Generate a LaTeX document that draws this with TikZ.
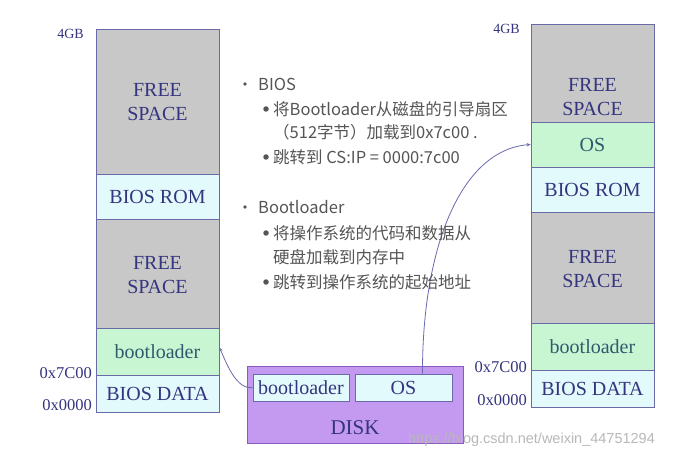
\documentclass[tikz,border=0pt]{standalone}
\usepackage{fontspec}
\setmainfont{Liberation Serif}
\newfontfamily\cjkf{Noto Sans CJK SC}
\newfontfamily\wmf{Liberation Sans}
\usetikzlibrary{arrows.meta}
\definecolor{boxline}{HTML}{6A6AA8}
\definecolor{navytext}{HTML}{35357F}
\definecolor{tealtext}{HTML}{2E5A6E}
\definecolor{freegray}{HTML}{C8C8C8}
\definecolor{lightcyan}{HTML}{E2FAFC}
\definecolor{lightgreen}{HTML}{C8F5D2}
\definecolor{diskpurple}{HTML}{C49AF0}
\definecolor{diskline}{HTML}{8A5AC0}
\definecolor{bodytext}{HTML}{555555}
\definecolor{connline}{HTML}{6A6AB0}
\tikzset{
  mem/.style={draw=boxline, line width=0.8pt, minimum width=123pt, inner sep=0pt, text=navytext, font=\fontsize{20}{24}\selectfont},
  freebox/.style={mem, fill=freegray},
  cyanbox/.style={mem, fill=lightcyan},
  greenbox/.style={mem, fill=lightgreen, text=tealtext},
  lbltext/.style={text=navytext, align=center, font=\fontsize{20}{24}\selectfont, inner sep=0pt},
  addr/.style={text=navytext, anchor=east, inner sep=0pt, font=\fontsize{16.5}{18}\selectfont},
  addrsmall/.style={text=navytext, anchor=east, inner sep=0pt, font=\fontsize{14}{16}\selectfont},
  line/.style={text=bodytext, anchor=west, inner sep=0pt, font=\cjkf\fontsize{16.5}{18}\selectfont},
  bul/.style={circle, fill=bodytext, inner sep=0pt},
  conn/.style={draw=connline, line width=0.8pt, -{Stealth[length=4pt,width=3.5pt]}},
}
\begin{document}
\begin{tikzpicture}[x=1pt,y=-1pt]
\useasboundingbox[fill=white] (0,0) rectangle (690,462);

% left memory
\node[freebox, minimum height=145pt] (lf1) at (157.5,101.5) {};
\node[lbltext] (lf1t) at (157.5,102) {FREE\\SPACE};
\node[cyanbox, minimum height=45pt] (lrom) at (157.5,196.5) {BIOS ROM};
\node[freebox, minimum height=109pt] (lf2) at (157.5,273.5) {};
\node[lbltext] (lf2t) at (157.5,275) {FREE\\SPACE};
\node[greenbox, minimum height=47pt] (lbl) at (157.5,351.5) {bootloader};
\node[cyanbox, minimum height=37pt] (lbd) at (157.5,393.5) {BIOS DATA};
\node[addrsmall] (l4gb) at (84,34) {4GB};
\node[addr] (l7c) at (92,373) {0x7C00};
\node[addr] (l00) at (92,405) {0x0000};

% right memory
\node[freebox, minimum height=98pt] (rf1) at (592.5,73) {};
\node[lbltext] (rf1t) at (592.5,97) {FREE\\SPACE};
\node[greenbox, minimum height=45pt] (ros) at (592.5,144.5) {OS};
\node[cyanbox, minimum height=45pt] (rrom) at (592.5,189.5) {BIOS ROM};
\node[freebox, minimum height=111pt] (rf2) at (592.5,267.5) {};
\node[lbltext] (rf2t) at (592.5,269) {FREE\\SPACE};
\node[greenbox, minimum height=47pt] (rbl) at (592.5,346.5) {bootloader};
\node[cyanbox, minimum height=37pt] (rbd) at (592.5,388.5) {BIOS DATA};
\node[addrsmall] (r4gb) at (520,29) {4GB};
\node[addr] (r7c) at (527,367) {0x7C00};
\node[addr] (r00) at (527,400) {0x0000};

% disk
\node[draw=diskline, fill=diskpurple, line width=0.8pt, minimum width=216pt, minimum height=77pt, inner sep=0pt] (disk) at (355,404.5) {};
\node[mem, fill=lightcyan, minimum width=96pt, minimum height=27pt] (dbl) at (301,387.5) {bootloader};
\node[mem, fill=lightcyan, minimum width=97pt, minimum height=27pt] (dos) at (403.5,387.5) {OS};
\node[lbltext, font=\fontsize{21}{24}\selectfont] (dlab) at (355,428) {DISK};

% connectors
\draw[conn] (dbl.west) .. controls (236,390) and (226,362) .. ([yshift=4pt]lbl.east);
\draw[conn] ([xshift=19pt]dos.north) .. controls (422,250) and (460,150) .. (ros.west);

% text
\node[bul, minimum size=3.6pt] (b1) at (245,84) {};
\node[line] (t1) at (258,84) {BIOS};
\node[bul, minimum size=5.5pt] (b2) at (266,109) {};
\node[line] (t2) at (273,109) {将Bootloader从磁盘的引导扇区};
\node[line] (t3) at (273,132) {（512字节）加载到0x7c00 .};
\node[bul, minimum size=5.5pt] (b3) at (266,157) {};
\node[line] (t4) at (273,157) {跳转到 CS:IP = 0000:7c00};
\node[bul, minimum size=3.6pt] (b4) at (245,207) {};
\node[line] (t5) at (258,207) {Bootloader};
\node[bul, minimum size=5.5pt] (b5) at (266,233) {};
\node[line] (t6) at (273,233) {将操作系统的代码和数据从};
\node[line] (t7) at (273,257) {硬盘加载到内存中};
\node[bul, minimum size=5.5pt] (b6) at (266,282) {};
\node[line] (t8) at (273,282) {跳转到操作系统的起始地址};

% watermark
\node[anchor=west, inner sep=0pt, text=black!28, font=\wmf\fontsize{14.5}{16}\selectfont] (wm) at (408,440) {https://blog.csdn.net/weixin\_44751294};
\end{tikzpicture}
\end{document}
